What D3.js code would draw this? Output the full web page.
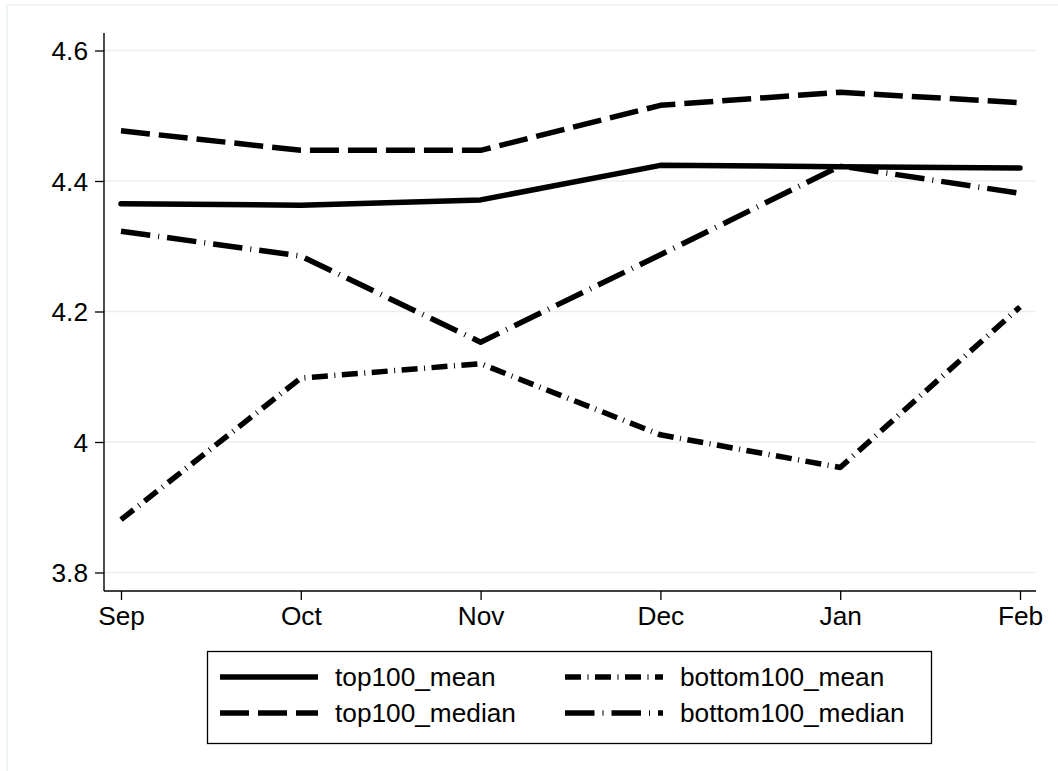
<!DOCTYPE html>
<html>
<head>
<meta charset="utf-8">
<script src="https://cdn.jsdelivr.net/npm/d3@7"></script>
<style>
  body { margin: 0; background: #fff; }
  svg { display: block; font-family: "Liberation Sans", Arial, sans-serif; }
</style>
</head>
<body>
<div id="chart"></div>
<script>
// values
const months = ["Sep", "Oct", "Nov", "Dec", "Jan", "Feb"]
const top100_mean = [4.365, 4.363, 4.371, 4.424, 4.422, 4.420]
const top100_median = [4.477, 4.447, 4.447, 4.516, 4.536, 4.520]
const bottom100_mean = [3.881, 4.098, 4.120, 4.011, 3.961, 4.207]
const bottom100_median = [4.323, 4.285, 4.153, 4.287, 4.423, 4.381]
const yTicks = [3.8, 4, 4.2, 4.4, 4.6]

const seriesNames = ["top100_mean", "top100_median", "bottom100_mean", "bottom100_median"]
const seriesValues = [top100_mean, top100_median, bottom100_mean, bottom100_median]
const dashes = [null, "29,9", "16,6.5,1,6.5", "29.5,8,1,8"]

const width = 1058, height = 771
const plotLeft = 104, plotRight = 1036, plotTop = 33, plotBottom = 591
const stretch = 1.05  // text in the picture is a bit wide

const svg = d3.select("#chart").append("svg")
  .attr("width", width)
  .attr("height", height)

// outer frame (light)
svg.append("rect")
  .attr("x", 7).attr("y", 5)
  .attr("width", 1100).attr("height", 820)
  .attr("fill", "#fff")
  .attr("stroke", "#e9eff1")
  .attr("stroke-width", 1.5)

const x = d3.scalePoint().domain(months).range([121, 1020])
const y = d3.scaleLinear().domain([3.8, 4.6]).range([572.5, 50.5])

// gridlines
svg.append("g").selectAll("line")
  .data(yTicks)
  .join("line")
  .attr("x1", plotLeft).attr("x2", plotRight)
  .attr("y1", d => y(d)).attr("y2", d => y(d))
  .attr("stroke", "#e9eff1")
  .attr("stroke-width", 1.6)

// y axis
const yAxis = svg.append("g")
  .attr("transform", "translate(" + plotLeft + ",0)")
  .call(d3.axisLeft(y).tickValues(yTicks).tickSize(9).tickPadding(7).tickFormat(d3.format("")))
yAxis.select(".domain").remove()
yAxis.selectAll(".tick line").attr("stroke", "#000").attr("stroke-width", 1.3)
yAxis.selectAll(".tick text")
  .attr("font-size", 25)
  .attr("font-family", "Liberation Sans, Arial, sans-serif")
  .attr("fill", "#000")
  .attr("dy", null)
  .attr("x", null)
  .attr("transform", "translate(-16,9) scale(" + stretch + ",1)")

// x axis
const xAxis = svg.append("g")
  .attr("transform", "translate(0," + plotBottom + ")")
  .call(d3.axisBottom(x).tickSize(9).tickPadding(8))
xAxis.select(".domain").remove()
xAxis.selectAll(".tick line").attr("stroke", "#000").attr("stroke-width", 1.3)
xAxis.selectAll(".tick text")
  .attr("font-size", 25)
  .attr("font-family", "Liberation Sans, Arial, sans-serif")
  .attr("fill", "#000")
  .attr("dy", null)
  .attr("y", null)
  .attr("transform", "translate(0,34) scale(" + stretch + ",1)")

// axis lines
svg.append("line")
  .attr("x1", plotLeft).attr("x2", plotLeft)
  .attr("y1", plotTop).attr("y2", plotBottom)
  .attr("stroke", "#000").attr("stroke-width", 1.4)
svg.append("line")
  .attr("x1", plotLeft).attr("x2", plotRight)
  .attr("y1", plotBottom).attr("y2", plotBottom)
  .attr("stroke", "#000").attr("stroke-width", 1.4)

// lines
const line = d3.line()
  .x((d, i) => x(months[i]))
  .y(d => y(d))

svg.append("g").selectAll("path")
  .data(seriesValues)
  .join("path")
  .attr("d", d => line(d))
  .attr("fill", "none")
  .attr("stroke", "#000")
  .attr("stroke-width", 5.5)
  .attr("stroke-linejoin", "round")
  .attr("stroke-linecap", (d, i) => i === 0 ? "round" : "butt")
  .attr("stroke-dasharray", (d, i) => dashes[i])

// legend
const legend = svg.append("g")
svg.append("rect")
  .attr("x", 207.5).attr("y", 651.5)
  .attr("width", 724).attr("height", 92)
  .attr("fill", "none")
  .attr("stroke", "#000")
  .attr("stroke-width", 1.3)

const legX = [220, 565], legY = [677, 713]
seriesNames.forEach((name, i) => {
  const col = i < 2 ? 0 : 1
  const row = i % 2
  legend.append("line")
    .attr("x1", legX[col]).attr("x2", legX[col] + 98)
    .attr("y1", legY[row]).attr("y2", legY[row])
    .attr("stroke", "#000")
    .attr("stroke-width", 5.5)
    .attr("stroke-dasharray", dashes[i])
  legend.append("text")
    .attr("transform", "translate(" + (legX[col] + 115) + "," + (legY[row] + 9) + ") scale(" + stretch + ",1)")
    .attr("font-size", 25)
    .attr("fill", "#000")
    .text(name)
})
</script>
</body>
</html>
